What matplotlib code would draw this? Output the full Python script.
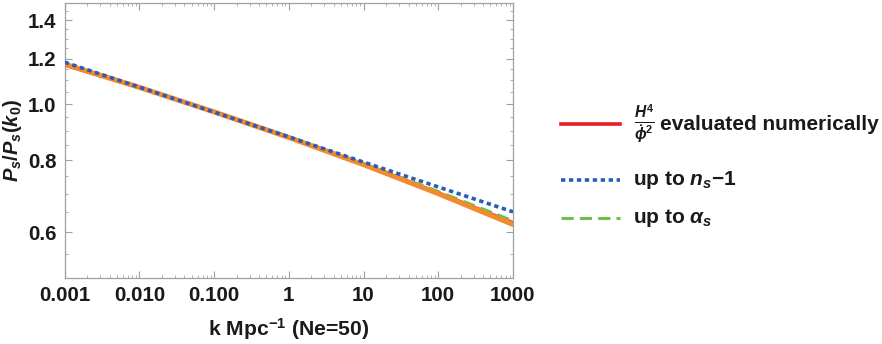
import matplotlib
matplotlib.use('Agg')
import numpy as np
import matplotlib.pyplot as plt
from matplotlib.lines import Line2D
from matplotlib.ticker import FixedLocator, FixedFormatter, NullFormatter, LogLocator

plt.rcParams['font.family'] = ['Liberation Sans', 'DejaVu Sans']
plt.rcParams['font.weight'] = 'bold'
plt.rcParams['mathtext.fontset'] = 'custom'
plt.rcParams['mathtext.rm'] = 'Liberation Sans:bold'
plt.rcParams['mathtext.it'] = 'Liberation Sans:italic:bold'
plt.rcParams['mathtext.bf'] = 'Liberation Sans:bold'

# values at each decade of k
k = [0.001, 0.01, 0.1, 1, 10, 100, 1000]
p_numeric = [1.170, 1.069, 0.971, 0.877, 0.787, 0.702, 0.623]
p_ns = [1.183, 1.071, 0.969, 0.878, 0.794, 0.719, 0.651]
p_alpha = [1.176, 1.070, 0.970, 0.879, 0.790, 0.706, 0.628]
p_orange = [1.174, 1.070, 0.970, 0.876, 0.786, 0.700, 0.619]

xtick_vals = [0.001, 0.01, 0.1, 1, 10, 100, 1000]
xtick_labels = ['0.001', '0.010', '0.100', '1', '10', '100', '1000']
ytick_vals = [0.6, 0.8, 1.0, 1.2, 1.4]
ytick_labels = ['0.6', '0.8', '1.0', '1.2', '1.4']

RED = '#EC1C24'
BLUE = '#2A5BB8'
GREEN = '#6CC04A'
ORANGE = '#F28A2E'
FRAME = '#A0A0A0'
TXT = '#1a1a1a'

W, H = 882, 344
fig = plt.figure(figsize=(W / 100, H / 100), dpi=100)
ax = fig.add_axes([0.0734, 0.192, 0.5082, 0.800])

ax.plot(k, p_numeric, color=RED, lw=2.6, zorder=2)
ax.plot(k, p_alpha, color=GREEN, lw=2.2, dashes=(4, 2), zorder=3)
ax.plot(k, p_orange, color=ORANGE, lw=3.6, zorder=4)
ax.plot(k, p_ns, color=BLUE, lw=2.6, dashes=(1.2, 1.0), zorder=5)

ax.set_xscale('log')
ax.set_yscale('log')
ax.set_xlim(0.001, 1000)
ax.set_ylim(0.5, 1.5)

ax.xaxis.set_major_locator(FixedLocator(xtick_vals))
ax.xaxis.set_major_formatter(FixedFormatter(xtick_labels))
ax.xaxis.set_minor_locator(LogLocator(base=10, subs=np.arange(2, 10)))
ax.xaxis.set_minor_formatter(NullFormatter())
ax.yaxis.set_major_locator(FixedLocator(ytick_vals))
ax.yaxis.set_major_formatter(FixedFormatter(ytick_labels))
ax.yaxis.set_minor_locator(FixedLocator([v for v in np.arange(0.5, 1.501, 0.05)
                                         if round(v, 2) not in ytick_vals]))
ax.yaxis.set_minor_formatter(NullFormatter())

for s in ax.spines.values():
    s.set_color(FRAME)
    s.set_linewidth(0.9)
ax.tick_params(which='both', direction='in', top=True, right=True, color=FRAME)
ax.tick_params(which='major', length=5, width=0.8, labelsize=14.8, labelcolor=TXT, pad=6)
ax.tick_params(which='minor', length=2.5, width=0.6)

ax.set_xlabel(r'k Mpc$^{\mathbf{-1}}$ (Ne=50)', fontsize=15.2, fontweight='bold',
              color=TXT, labelpad=8)
ax.set_ylabel(r'$P_s/P_s(k_0)$', fontsize=14.5, color=TXT, labelpad=3)

# legend drawn by hand, positions in pixels from the top-left
def fx(px):
    return px / W

def fy(py):
    return 1 - py / H

rows = [124, 180, 218]
styles = [dict(color=RED, lw=2.6),
          dict(color=BLUE, lw=2.6, dashes=(1.2, 1.0)),
          dict(color=GREEN, lw=2.2, dashes=(4, 2))]
for y, st in zip(rows, styles):
    fig.add_artist(Line2D([fx(561), fx(620)], [fy(y), fy(y)], **st))

fig.text(fx(644), fy(rows[0]), r'$\frac{H^4}{\dot{\phi}^2}$', fontsize=16,
         ha='center', va='center', color=TXT)
fig.text(fx(660), fy(rows[0]), 'evaluated numerically', fontsize=15,
         ha='left', va='center', color=TXT, fontweight='bold')
fig.text(fx(633), fy(rows[1]), r'up to $n_s$$-$1', fontsize=15,
         ha='left', va='center', color=TXT, fontweight='bold')
fig.text(fx(633), fy(rows[2]), r'up to $\alpha_s$', fontsize=15,
         ha='left', va='center', color=TXT, fontweight='bold')

fig.savefig('out.png', dpi=100)
